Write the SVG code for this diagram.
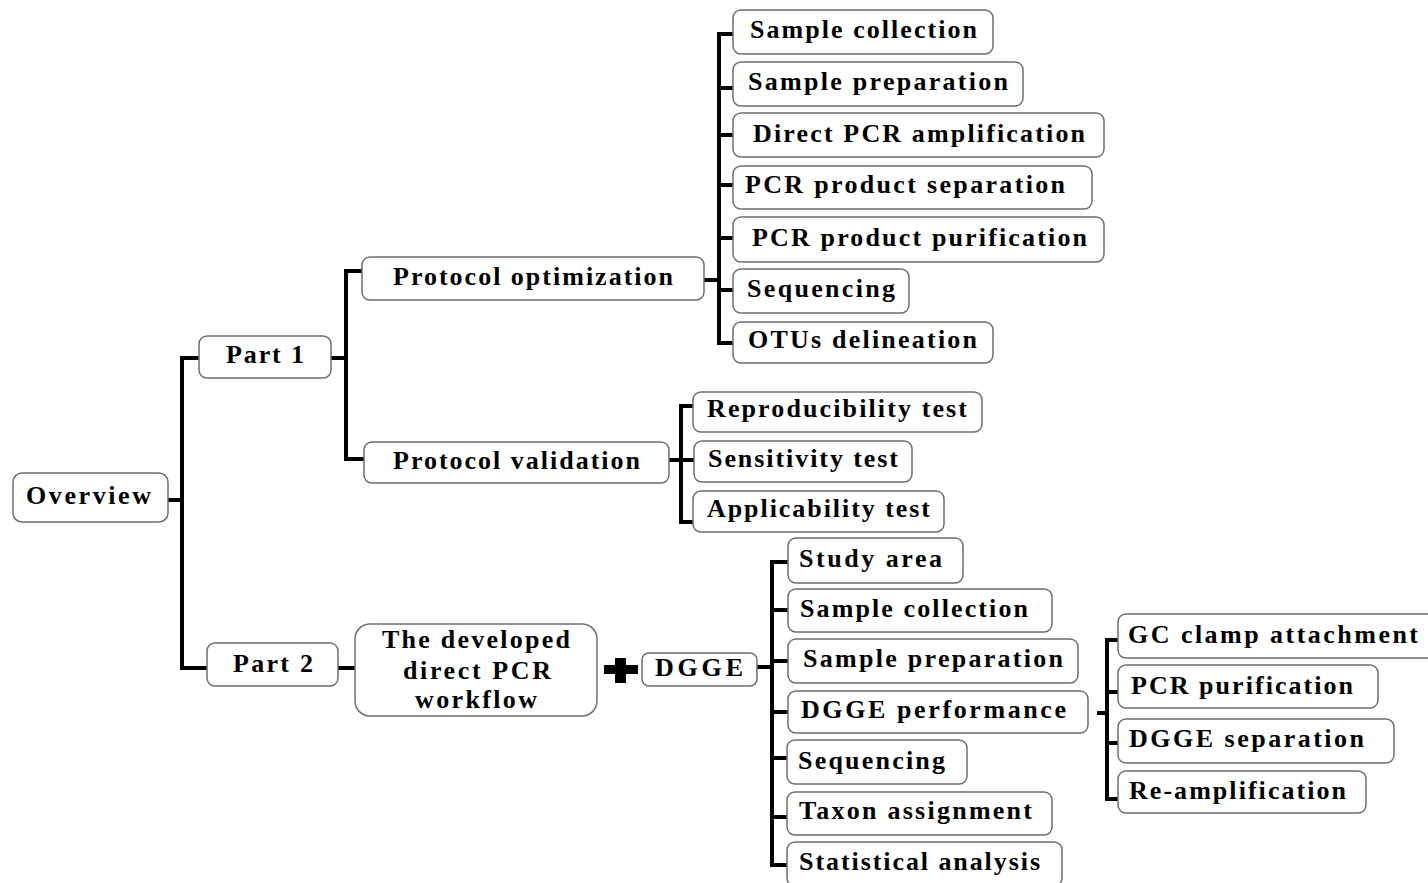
<svg xmlns="http://www.w3.org/2000/svg" width="1428" height="883" viewBox="0 0 1428 883">
<style>
.box{fill:#fff;stroke:#6e6e6e;stroke-width:1.5}
.t{font-weight:700;font-size:26px;fill:#000}
.c{fill:none;stroke:#000;stroke-width:4;stroke-linejoin:miter;stroke-linecap:butt}
</style>
<rect width="1428" height="883" fill="#fff"/>
<g id="connectors">
<path class="c" d="M168,500 H184 M199,358 H182 V668 H207"/>
<path class="c" d="M331,358 H348 M362,271 H346 V459 H364"/>
<path class="c" d="M338,668 H355"/>
<path class="c" d="M704,280 H721 M733,34 H719 V343 H733 M721,88 H733 M721,135 H733 M721,185 H733 M721,238 H733 M721,290 H733"/>
<path class="c" d="M669,460 H683 M693,406 H681 V522 H693 M683,460 H694"/>
<path class="c" d="M757,667 H774 M788,562 H772 V865 H787 M774,610 H788 M774,661 H788 M774,712 H788 M774,758 H787 M774,817 H787"/>
<path class="c" d="M1097,713 H1109 M1118,640 H1107 V799 H1118 M1109,692 H1118 M1109,743 H1118"/>
</g>
<g id="plus">
<rect x="604" y="665" width="34" height="9" fill="#000"/>
<rect x="615" y="658" width="11" height="25" fill="#000"/>
</g>
<g font-family="Liberation Serif, Times New Roman, serif">
<g id="overview"><rect class="box" x="13" y="473" width="155" height="49" rx="9"/><text class="t" x="26" y="504" textLength="125" lengthAdjust="spacing">Overview</text></g>
<g id="part1"><rect class="box" x="199" y="336" width="132" height="42" rx="8"/><text class="t" x="226" y="363" textLength="78" lengthAdjust="spacing">Part 1</text></g>
<g id="part2"><rect class="box" x="207" y="643" width="131" height="43" rx="8"/><text class="t" x="233" y="672" textLength="80" lengthAdjust="spacing">Part 2</text></g>
<g id="protocol-optimization"><rect class="box" x="362" y="257" width="342" height="43" rx="8"/><text class="t" x="393" y="285" textLength="280" lengthAdjust="spacing">Protocol optimization</text></g>
<g id="protocol-validation"><rect class="box" x="364" y="442" width="305" height="41" rx="8"/><text class="t" x="393" y="469" textLength="247" lengthAdjust="spacing">Protocol validation</text></g>
<g id="opt-sample-collection"><rect class="box" x="733" y="10" width="260" height="44" rx="8"/><text class="t" x="750" y="38" textLength="227" lengthAdjust="spacing">Sample collection</text></g>
<g id="opt-sample-preparation"><rect class="box" x="733" y="62" width="290" height="44" rx="8"/><text class="t" x="748" y="90" textLength="260" lengthAdjust="spacing">Sample preparation</text></g>
<g id="opt-direct-pcr"><rect class="box" x="733" y="113" width="371" height="44" rx="8"/><text class="t" x="753" y="142" textLength="332" lengthAdjust="spacing">Direct PCR amplification</text></g>
<g id="opt-pcr-separation"><rect class="box" x="733" y="166" width="359" height="43" rx="8"/><text class="t" x="745" y="193" textLength="320" lengthAdjust="spacing">PCR product separation</text></g>
<g id="opt-pcr-purification"><rect class="box" x="733" y="217" width="371" height="45" rx="8"/><text class="t" x="752" y="246" textLength="335" lengthAdjust="spacing">PCR product purification</text></g>
<g id="opt-sequencing"><rect class="box" x="733" y="269" width="176" height="44" rx="8"/><text class="t" x="747" y="297" textLength="148" lengthAdjust="spacing">Sequencing</text></g>
<g id="opt-otus"><rect class="box" x="733" y="322" width="260" height="41" rx="8"/><text class="t" x="748" y="348" textLength="229" lengthAdjust="spacing">OTUs delineation</text></g>
<g id="val-reproducibility"><rect class="box" x="693" y="392" width="289" height="40" rx="8"/><text class="t" x="707" y="417" textLength="260" lengthAdjust="spacing">Reproducibility test</text></g>
<g id="val-sensitivity"><rect class="box" x="694" y="441" width="218" height="41" rx="8"/><text class="t" x="708" y="467" textLength="190" lengthAdjust="spacing">Sensitivity test</text></g>
<g id="val-applicability"><rect class="box" x="693" y="491" width="251" height="41" rx="8"/><text class="t" x="707" y="517" textLength="223" lengthAdjust="spacing">Applicability test</text></g>
<g id="developed-workflow"><rect class="box" x="355" y="624" width="242" height="92" rx="15"/>
<text class="t" x="382" y="648" textLength="188" lengthAdjust="spacing">The developed</text>
<text class="t" x="403" y="679" textLength="148" lengthAdjust="spacing">direct PCR</text>
<text class="t" x="415" y="708" textLength="122" lengthAdjust="spacing">workflow</text></g>
<g id="dgge"><rect class="box" x="642" y="653" width="115" height="33" rx="7"/><text class="t" x="655" y="676" textLength="88" lengthAdjust="spacing">DGGE</text></g>
<g id="dg-study-area"><rect class="box" x="788" y="538" width="175" height="45" rx="8"/><text class="t" x="799" y="567" textLength="143" lengthAdjust="spacing">Study area</text></g>
<g id="dg-sample-collection"><rect class="box" x="788" y="589" width="264" height="43" rx="8"/><text class="t" x="800" y="617" textLength="228" lengthAdjust="spacing">Sample collection</text></g>
<g id="dg-sample-preparation"><rect class="box" x="788" y="639" width="290" height="44" rx="8"/><text class="t" x="803" y="667" textLength="260" lengthAdjust="spacing">Sample preparation</text></g>
<g id="dg-performance"><rect class="box" x="788" y="691" width="300" height="42" rx="8"/><text class="t" x="801" y="718" textLength="265" lengthAdjust="spacing">DGGE performance</text></g>
<g id="dg-sequencing"><rect class="box" x="787" y="740" width="180" height="44" rx="8"/><text class="t" x="798" y="769" textLength="147" lengthAdjust="spacing">Sequencing</text></g>
<g id="dg-taxon"><rect class="box" x="787" y="792" width="265" height="43" rx="8"/><text class="t" x="799" y="819" textLength="233" lengthAdjust="spacing">Taxon assignment</text></g>
<g id="dg-statistical"><rect class="box" x="787" y="842" width="275" height="44" rx="8"/><text class="t" x="799" y="870" textLength="241" lengthAdjust="spacing">Statistical analysis</text></g>
<g id="gc-clamp"><rect class="box" x="1118" y="614" width="318" height="44" rx="8"/><text class="t" x="1128" y="643" textLength="290" lengthAdjust="spacing">GC clamp attachment</text></g>
<g id="pcr-purification"><rect class="box" x="1118" y="665" width="260" height="43" rx="8"/><text class="t" x="1131" y="694" textLength="222" lengthAdjust="spacing">PCR purification</text></g>
<g id="dgge-separation"><rect class="box" x="1118" y="719" width="276" height="44" rx="8"/><text class="t" x="1129" y="747" textLength="235" lengthAdjust="spacing">DGGE separation</text></g>
<g id="re-amplification"><rect class="box" x="1118" y="771" width="248" height="42" rx="8"/><text class="t" x="1129" y="799" textLength="217" lengthAdjust="spacing">Re-amplification</text></g>
</g>
</svg>
